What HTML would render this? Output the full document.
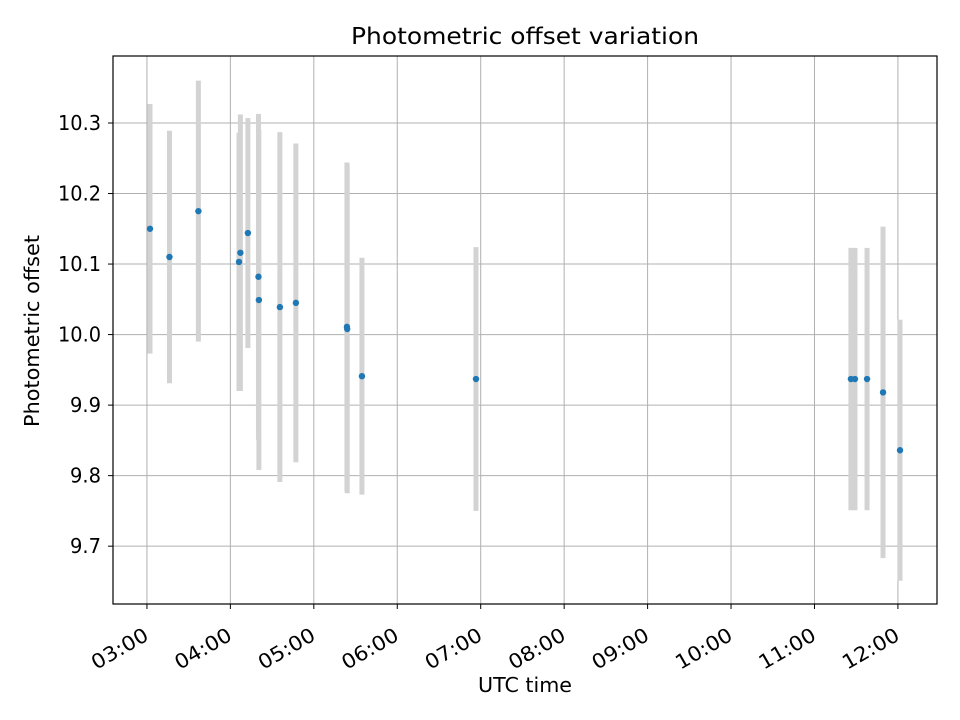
<!DOCTYPE html>
<html><head><meta charset="utf-8">
<style>body{margin:0;background:#fff}svg{display:block;font-family:"DejaVu Sans","Liberation Sans",sans-serif}</style>
</head><body>
<svg id="chart" width="960" height="720" xmlns="http://www.w3.org/2000/svg"></svg>
<script>
// minutes after 03:00 UTC
const times = [2.2,16.2,37,67.2,66.2,72.6,80.2,80.5,95.6,107.1,143.8,144,154.6,236.6,506.2,509.1,517.8,529.3,541.5];
const values = [10.150,10.110,10.175,10.116,10.103,10.144,10.082,10.049,10.039,10.045,10.011,10.008,9.941,9.937,9.937,9.937,9.937,9.918,9.836];
const errors = [0.177,0.179,0.185,0.196,0.183,0.163,0.231,0.241,0.248,0.226,0.233,0.233,0.168,0.187,0.186,0.186,0.186,0.235,0.185];
const yTicks = [9.7,9.8,9.9,10.0,10.1,10.2,10.3];
const xTickLabels = ["03:00","04:00","05:00","06:00","07:00","08:00","09:00","10:00","11:00","12:00"];

const NS="http://www.w3.org/2000/svg", svg=document.getElementById('chart');
const L=113,R=937,T=56,B=604, xmin=-24.4,xmax=568.1,ymin=9.618,ymax=10.395;
const X=m=>L+(m-xmin)/(xmax-xmin)*(R-L);
const Y=v=>B-(v-ymin)/(ymax-ymin)*(B-T);
function mk(tag,attrs,parent){const e=document.createElementNS(NS,tag);for(const k in attrs)e.setAttribute(k,attrs[k]);(parent||svg).appendChild(e);return e;}

const grid=mk('g',{});


const ticks=mk('g',{});


yTicks.forEach(v=>{
  const y=Y(v);
  const s=v.toFixed(1);
  mk('line',{x1:L,x2:R,y1:y,y2:y,stroke:'#b0b0b0','stroke-width':1},grid);
  mk('line',{x1:L-5,x2:L,y1:y,y2:y,stroke:'#000','stroke-width':1},ticks);
  const t=mk('text',{x:L-12,y:y+7,'text-anchor':'end','font-size':20,textLength:s.length>3?43:31,lengthAdjust:'spacingAndGlyphs'},ticks);
  t.textContent=s;
  
  
});
xTickLabels.forEach((lab,i)=>{
  const x=X(i*60);
  mk('line',{x1:x,x2:x,y1:T,y2:B,stroke:'#b0b0b0','stroke-width':1},grid);
  mk('line',{x1:x,x2:x,y1:B,y2:B+5,stroke:'#000','stroke-width':1},ticks);
  const t=mk('text',{x:0,y:0,'text-anchor':'end','font-size':20,textLength:62,lengthAdjust:'spacingAndGlyphs',transform:`translate(${x+3},${B+35}) rotate(-30)`},ticks);
  t.textContent=lab;
  
  
});
const bars=mk('g',{});


times.forEach((m,i)=>{
  const b=mk('line',{x1:X(m),x2:X(m),y1:Y(values[i]+errors[i]),y2:Y(values[i]-errors[i]),stroke:'#d3d3d3','stroke-width':5},bars);
  
  
});
const pts=mk('g',{});


times.forEach((m,i)=>{
  const c=mk('circle',{cx:X(m),cy:Y(values[i]),r:3.2,fill:'#1f77b4'},pts);
  
  
});
const frame=mk('rect',{x:L,y:T,width:R-L,height:B-T,fill:'none',stroke:'#000','stroke-width':1.2});


const title=mk('text',{x:(L+R)/2,y:44,'text-anchor':'middle','font-size':23,textLength:348,lengthAdjust:'spacingAndGlyphs'});
title.textContent='Photometric offset variation';


const xl=mk('text',{x:(L+R)/2,y:692,'text-anchor':'middle','font-size':20,textLength:94,lengthAdjust:'spacingAndGlyphs'});
xl.textContent='UTC time';


const yl=mk('text',{x:0,y:0,'text-anchor':'middle','font-size':20,textLength:192,lengthAdjust:'spacingAndGlyphs',transform:`translate(39,${(T+B)/2+1}) rotate(-90)`});
yl.textContent='Photometric offset';


</script>
</body></html>
